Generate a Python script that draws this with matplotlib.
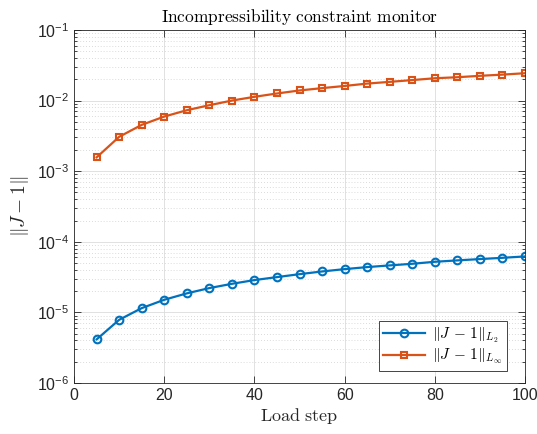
import matplotlib
matplotlib.use("Agg")
import matplotlib.pyplot as plt
from matplotlib.ticker import LogLocator, FixedLocator, NullFormatter

# Load steps and constraint violation norms
load_steps = [5, 10, 15, 20, 25, 30, 35, 40, 45, 50,
              55, 60, 65, 70, 75, 80, 85, 90, 95, 100]
err_l2 = [4.15e-6, 7.86e-6, 1.15e-5, 1.51e-5, 1.86e-5, 2.21e-5, 2.54e-5,
          2.87e-5, 3.16e-5, 3.48e-5, 3.80e-5, 4.10e-5, 4.38e-5, 4.63e-5,
          4.88e-5, 5.21e-5, 5.45e-5, 5.69e-5, 5.93e-5, 6.20e-5]
err_linf = [1.57e-3, 3.07e-3, 4.53e-3, 5.94e-3, 7.30e-3, 8.60e-3, 1.00e-2,
            1.13e-2, 1.26e-2, 1.39e-2, 1.50e-2, 1.61e-2, 1.74e-2, 1.84e-2,
            1.95e-2, 2.07e-2, 2.14e-2, 2.24e-2, 2.33e-2, 2.44e-2]

plt.rcParams['font.family'] = ['Liberation Sans', 'DejaVu Sans']
plt.rcParams['mathtext.fontset'] = 'cm'

blue = '#0072BD'
orange = '#D95319'
txt = '#262626'

fig = plt.figure(figsize=(5.37, 4.34), dpi=100)
ax = fig.add_axes([0.138, 0.1175, 0.8397, 0.8135])

ax.semilogy(load_steps, err_l2, '-o', color=blue, lw=1.6, ms=5.5,
            mfc='none', mew=1.5, label=r'$\|J\,-\,1\|_{L_2}$')
ax.semilogy(load_steps, err_linf, '-s', color=orange, lw=1.6, ms=5,
            mfc='none', mew=1.5, label=r'$\|J\,-\,1\|_{L_\infty}$')

ax.set_xlim(0, 100)
ax.set_ylim(1e-6, 1e-1)
ax.set_xticks([0, 20, 40, 60, 80, 100])
ax.yaxis.set_major_locator(FixedLocator([1e-6, 1e-5, 1e-4, 1e-3, 1e-2, 1e-1]))
ax.yaxis.set_minor_locator(LogLocator(base=10, subs=range(2, 10), numticks=20))
ax.yaxis.set_minor_formatter(NullFormatter())
ax.set_yticklabels([r'$\mathdefault{10^{-%d}}$' % k for k in range(6, 0, -1)])

ax.tick_params(which='both', direction='in', top=True, right=True,
               labelsize=11.5, colors=txt, width=0.6)
ax.tick_params(which='major', length=5)
ax.tick_params(which='minor', length=2.5)
for s in ax.spines.values():
    s.set_color(txt)
    s.set_linewidth(0.6)

ax.grid(True, which='major', color='#dcdcdc', lw=0.6)
ax.grid(True, which='minor', axis='y', color='#cfcfcf', lw=0.6, ls=(0, (1, 2.5)))
ax.set_axisbelow(True)

ax.set_title(r'$\mathrm{Incompressibility\ constraint\ monitor}$',
             fontsize=12.5, color='black', pad=6)
ax.set_xlabel(r'$\mathrm{Load\ step}$', fontsize=13, color=txt, labelpad=2)
ax.set_ylabel(r'$\|J-1\|$', fontsize=14, color=txt, labelpad=4)

leg = ax.legend(loc='lower right', fontsize=11, fancybox=False, framealpha=1,
                edgecolor=txt, borderpad=0.3, handlelength=2.7,
                handletextpad=0.5, borderaxespad=0,
                bbox_to_anchor=(0.96, 0.034), labelspacing=0.15)
leg.get_frame().set_linewidth(0.6)

fig.savefig('out.png', dpi=100)
